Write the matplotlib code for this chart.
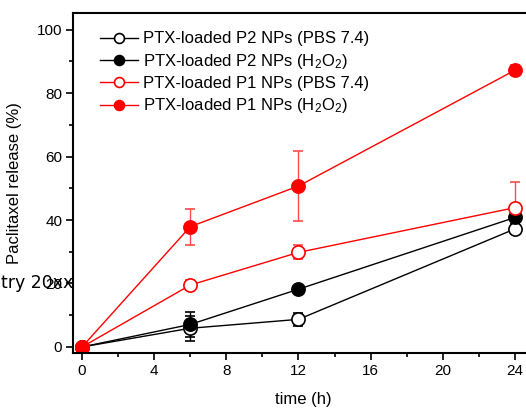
"""Paclitaxel release profiles of PTX-loaded P1/P2 nanoparticles."""
import matplotlib; matplotlib.use("Agg")
import matplotlib.pyplot as plt
from matplotlib.ticker import MultipleLocator

# data
time_h = [0, 6, 12, 24]
p2_pbs = [0, 5.9, 8.7, 37.2]
p2_pbs_err = [0, 4.0, 2.0, 1.5]
p2_h2o2 = [0, 7.1, 18.2, 40.8]
p2_h2o2_err = [0, 4.0, 0.5, 1.0]
p1_pbs = [0, 19.5, 29.8, 43.9]
p1_pbs_err = [0, 1.7, 2.2, 8.2]
p1_h2o2 = [0, 37.9, 50.7, 87.2]
p1_h2o2_err = [0, 5.7, 11.0, 1.5]
labels = ["PTX-loaded P2 NPs (PBS 7.4)", "PTX-loaded P2 NPs (H$_2$O$_2$)",
          "PTX-loaded P1 NPs (PBS 7.4)", "PTX-loaded P1 NPs (H$_2$O$_2$)"]
stray_label = "try 20xx"

plt.rcParams["font.family"] = ["Liberation Sans", "DejaVu Sans"]
plt.rcParams["mathtext.fontset"] = "custom"
plt.rcParams["mathtext.rm"] = "Liberation Sans"
plt.rcParams["mathtext.it"] = "Liberation Sans"

fig = plt.figure(figsize=(5.26, 4.08), dpi=100)
ax = fig.add_axes([0.1394, 0.134, 0.874, 0.834])

series = [
    (p2_pbs, p2_pbs_err, "black", "white", "black"),
    (p2_h2o2, p2_h2o2_err, "black", "black", "black"),
    (p1_pbs, p1_pbs_err, "red", "white", "#ff4a4a"),
    (p1_h2o2, p1_h2o2_err, "red", "red", "#ff4a4a"),
]
handles = []
for vals, err, col, face, ecol in series:
    c = ax.errorbar(time_h, vals, yerr=err, color=col, ecolor=ecol, lw=1, marker="o", ms=9.5,
                    mfc=face, mec=col, mew=1.2, capsize=3.5, elinewidth=1)
    handles.append(c.lines[0])

ax.set_xlim(-0.48, 25)
ax.set_ylim(-2, 105.2)
ax.xaxis.set_major_locator(MultipleLocator(4))
ax.xaxis.set_minor_locator(MultipleLocator(2))
ax.yaxis.set_major_locator(MultipleLocator(20))
ax.yaxis.set_minor_locator(MultipleLocator(10))
ax.tick_params(which="major", direction="out", length=5, width=1.2, labelsize=11, pad=3)
ax.tick_params(which="minor", direction="out", length=3, width=1.2)
for s in ax.spines.values():
    s.set_linewidth(1.5)

# stray text sitting over the "20" tick label in the original
ax.text(0.0, 20, stray_label, transform=ax.get_yaxis_transform(), ha="right", va="center",
        fontsize=12.5, family="DejaVu Sans")

ax.set_xlabel("time (h)", fontsize=12, labelpad=10)
ax.set_ylabel("Paclitaxel release (%)", fontsize=12)
ax.yaxis.set_label_coords(-0.112, 0.5)
ax.legend(handles, labels, loc="upper left", bbox_to_anchor=(0.025, 0.99), frameon=False,
          fontsize=12, markerscale=0.75, handlelength=2.3, handletextpad=0.3,
          labelspacing=0.32)

plt.savefig("out.png", dpi=100)
